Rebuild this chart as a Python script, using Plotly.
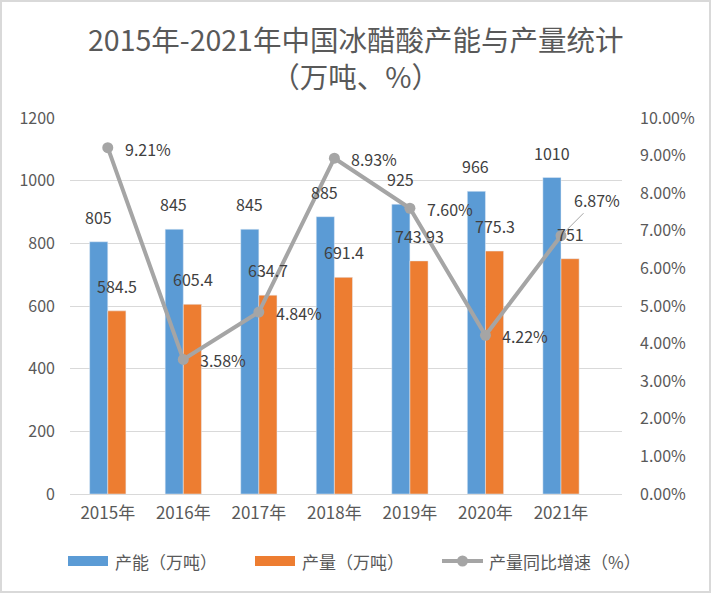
import plotly.graph_objects as go

years = ["2015年", "2016年", "2017年", "2018年", "2019年", "2020年", "2021年"]
capacity = [805, 845, 845, 885, 925, 966, 1010]
output = [584.5, 605.4, 634.7, 691.4, 743.93, 775.3, 751]
growth = [0.0921, 0.0358, 0.0484, 0.0893, 0.0760, 0.0422, 0.0687]
capacity_labels = ["805", "845", "845", "885", "925", "966", "1010"]
output_labels = ["584.5", "605.4", "634.7", "691.4", "743.93", "775.3", "751"]
growth_labels = ["9.21%", "3.58%", "4.84%", "8.93%", "7.60%", "4.22%", "6.87%"]
left_ticks = [0, 200, 400, 600, 800, 1000, 1200]
right_ticks = [0.00, 0.01, 0.02, 0.03, 0.04, 0.05, 0.06, 0.07, 0.08, 0.09, 0.10]

BLUE = "#5B9BD5"
ORANGE = "#ED7D31"
GRAY = "#A5A5A5"
TXT = "#404040"
AX = "#595959"
FONT = "Noto Sans CJK SC, sans-serif"

W, H = 711, 593
L, R, T, B = 70, 622, 118, 494

def px(x):
    return (x - L) / (R - L)

def py(y):
    return (B - y) / (B - T)

fig = go.Figure()
fig.add_trace(go.Bar(x=years, y=capacity, name="产能（万吨）", marker_color=BLUE,
                     showlegend=False, hoverinfo="skip"))
fig.add_trace(go.Bar(x=years, y=output, name="产量（万吨）", marker_color=ORANGE,
                     showlegend=False, hoverinfo="skip"))
fig.add_trace(go.Scatter(x=years, y=growth, yaxis="y2", mode="lines+markers",
                         name="产量同比增速（%）",
                         line=dict(color=GRAY, width=4),
                         marker=dict(color=GRAY, size=11),
                         showlegend=False, cliponaxis=False, hoverinfo="skip"))

ann = []
for yr, v, t in zip(years, capacity, capacity_labels):
    ann.append(dict(x=yr, y=v, xref="x", yref="y", text=t, showarrow=False,
                    xanchor="center", yanchor="bottom", xshift=-9.5, yshift=11,
                    font=dict(family=FONT, size=16, color=TXT)))
for yr, v, t in zip(years, output, output_labels):
    ann.append(dict(x=yr, y=v, xref="x", yref="y", text=t, showarrow=False,
                    xanchor="center", yanchor="bottom", xshift=9.5, yshift=11,
                    font=dict(family=FONT, size=16, color=TXT)))
for i, (yr, v, t) in enumerate(zip(years, growth, growth_labels)):
    if i < len(years) - 1:
        ann.append(dict(x=yr, y=v, xref="x", yref="y2", text=t, showarrow=False,
                        xanchor="left", yanchor="middle", xshift=15, yshift=-1,
                        font=dict(family=FONT, size=16, color=TXT)))
    else:
        ann.append(dict(x=yr, y=v, xref="x", yref="y2", text=t, showarrow=True,
                        arrowhead=0, arrowwidth=1, arrowcolor=GRAY,
                        ax=36, ay=-36, standoff=4,
                        font=dict(family=FONT, size=16, color=TXT)))

# title (two lines)
ann.append(dict(x=px(355.5), y=py(57), xref="paper", yref="paper", xanchor="center", yanchor="middle",
                text="2015年-2021年中国冰醋酸产能与产量统计<br>（万吨、%）", showarrow=False,
                font=dict(family=FONT, size=28.5, color=AX)))

# legend (custom)
legend_items = [("产能（万吨）", 68), ("产量（万吨）", 255), ("产量同比增速（%）", 442)]
shapes = []
for i, (name, x0) in enumerate(legend_items):
    if i == 0 or i == 1:
        shapes.append(dict(type="rect", xref="paper", yref="paper",
                           x0=px(x0), x1=px(x0 + 40), y0=py(566), y1=py(556),
                           fillcolor=BLUE if i == 0 else ORANGE, line=dict(width=0)))
    else:
        shapes.append(dict(type="line", xref="paper", yref="paper",
                           x0=px(x0), x1=px(x0 + 41), y0=py(561), y1=py(561),
                           line=dict(color=GRAY, width=4)))
        shapes.append(dict(type="circle", xref="paper", yref="paper",
                           x0=px(x0 + 15), x1=px(x0 + 26), y0=py(566.5), y1=py(555.5),
                           fillcolor=GRAY, line=dict(width=0)))
    ann.append(dict(x=px(x0 + 45), y=py(561), xref="paper", yref="paper",
                    xanchor="left", yanchor="middle", text=name, showarrow=False,
                    font=dict(family=FONT, size=17, color=AX)))

# outer border
shapes.append(dict(type="rect", xref="paper", yref="paper",
                   x0=px(1), x1=px(W - 1), y0=py(H - 1), y1=py(1),
                   line=dict(color="#D9D9D9", width=2), fillcolor="rgba(0,0,0,0)", layer="below"))

fig.update_layout(
    width=W, height=H,
    margin=dict(l=L, r=W - R, t=T, b=H - B),
    paper_bgcolor="white", plot_bgcolor="white",
    barmode="group", bargap=0.52, bargroupgap=0,
    font=dict(family=FONT, size=16, color=AX),
    xaxis=dict(showgrid=False, showline=True, linecolor="#D9D9D9", linewidth=1,
               ticks="", tickfont=dict(family=FONT, size=17, color=AX),
               ticklabelstandoff=4, fixedrange=True, automargin=False),
    yaxis=dict(range=[0, 1200], tickvals=left_ticks, showgrid=True, gridcolor="#D9D9D9",
               gridwidth=1, zeroline=False, showline=False, ticks="",
               tickfont=dict(family=FONT, size=16, color=AX), ticklabelstandoff=14,
               automargin=False),
    yaxis2=dict(range=[0, 0.10], tickvals=right_ticks, tickformat=".2%", overlaying="y",
                side="right", showgrid=False, zeroline=False, showline=False, ticks="",
                tickfont=dict(family=FONT, size=16, color=AX), ticklabelstandoff=17,
                automargin=False),
    annotations=ann, shapes=shapes,
)

fig.write_html("out.html", config={"displayModeBar": False},
               post_script="document.body.style.margin='0';document.body.style.overflow='hidden';")
